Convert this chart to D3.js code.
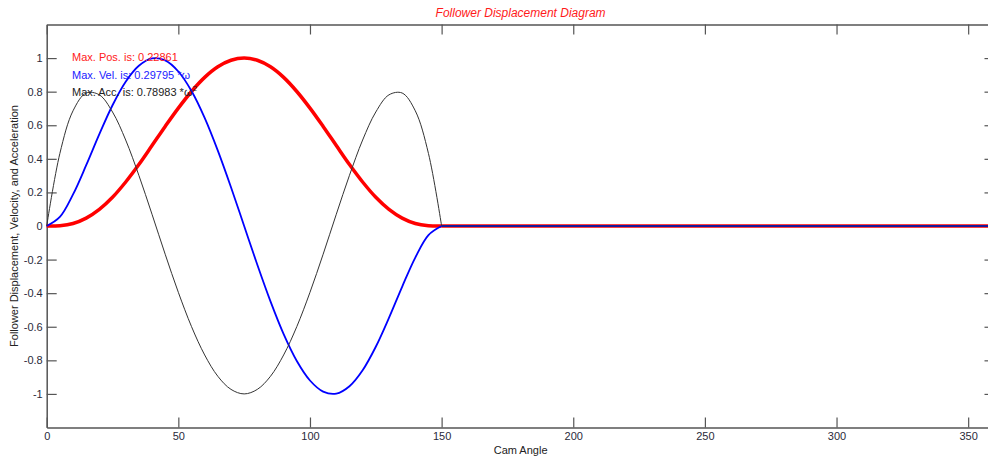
<!DOCTYPE html>
<html>
<head>
<meta charset="utf-8">
<script src="https://cdn.jsdelivr.net/npm/d3@7"></script>
<style>
  body { margin: 0; background: #fff; overflow: hidden; }
  svg { display: block; font-family: "Liberation Sans", Arial, sans-serif; }
</style>
</head>
<body>
<div id="chart"></div>
<script>
// cam angle samples (deg), rise-return over 0..150 then dwell to 360
var angles = [0, 5, 10, 15, 20, 25, 30, 35, 40, 45, 50, 55, 60, 65, 70, 75,
              80, 85, 90, 95, 100, 105, 110, 115, 120, 125, 130, 135, 140, 145, 150, 360];

var posData = [0, 0.002, 0.015, 0.047, 0.099, 0.171, 0.262, 0.366, 0.479, 0.593, 0.702, 0.801, 0.885, 0.948, 0.987, 1,
               0.987, 0.948, 0.885, 0.801, 0.702, 0.593, 0.479, 0.366, 0.262, 0.171, 0.099, 0.047, 0.015, 0.002, 0, 0];

var velData = [0, 0.054, 0.188, 0.362, 0.547, 0.719, 0.859, 0.954, 0.998, 0.986, 0.920, 0.804, 0.644, 0.449, 0.231, 0,
               -0.231, -0.449, -0.644, -0.804, -0.920, -0.986, -0.998, -0.954, -0.859, -0.719, -0.547, -0.362, -0.188, -0.054, 0, 0];

var accData = [0, 0.432, 0.686, 0.792, 0.781, 0.679, 0.512, 0.302, 0.070, -0.168, -0.395, -0.599, -0.768, -0.895, -0.973, -1,
               -0.973, -0.895, -0.768, -0.599, -0.395, -0.168, 0.070, 0.302, 0.512, 0.679, 0.781, 0.792, 0.686, 0.432, 0, 0];

var xTicks = [0, 50, 100, 150, 200, 250, 300, 350];
var yTicks = [-1, -0.8, -0.6, -0.4, -0.2, 0, 0.2, 0.4, 0.6, 0.8, 1];

var legendLines = ["Max. Pos. is: 0.22861", "Max. Vel. is: 0.29795 *\u03c9", "Max. Acc. is: 0.78983 *\u03c9"];

const width = 988, height = 459;
const margin = {top: 24.5, left: 46.7, bottom: 31.5};
var plotRight = 994.5;

var svg = d3.select("#chart").append("svg")
    .attr("width", width)
    .attr("height", height);

var xScale = d3.scaleLinear().domain([0, 360]).range([margin.left, plotRight]);
var yScale = d3.scaleLinear().domain([-1.2, 1.2]).range([height - margin.bottom, margin.top]);

// axes, ticks pointing inward
var axisColor = "#555";
var fmtY = d => String(+d.toFixed(1));

var gx = svg.append("g")
    .attr("transform", "translate(0," + yScale(-1.2) + ")")
    .call(d3.axisBottom(xScale).tickValues(xTicks).tickSize(-10).tickSizeOuter(0).tickPadding(5));
var gxTop = svg.append("g")
    .attr("transform", "translate(0," + yScale(1.2) + ")")
    .call(d3.axisTop(xScale).tickValues(xTicks).tickSize(-10).tickSizeOuter(0).tickFormat(""));
var gy = svg.append("g")
    .attr("transform", "translate(" + xScale(0) + ",0)")
    .call(d3.axisLeft(yScale).tickValues(yTicks).tickSize(-10).tickSizeOuter(0).tickPadding(4).tickFormat(fmtY));
var gyRight = svg.append("g")
    .attr("transform", "translate(" + xScale(360) + ",0)")
    .call(d3.axisRight(yScale).tickValues(yTicks).tickSize(-10).tickSizeOuter(0).tickFormat(""));

[gx, gxTop, gy, gyRight].forEach(function(g){
    g.select(".domain").attr("stroke", axisColor).attr("stroke-width", 1.5);
    g.selectAll(".tick line").attr("stroke", axisColor).attr("stroke-width", 1.2);
    g.selectAll(".tick text")
        .attr("fill", "#2a2a3a")
        .style("font-size", "11px")
        .style("font-family", "'Liberation Sans', Arial, sans-serif");
});

// curves
var pts = function(vals){ return angles.map((a, i) => [a, vals[i]]); };
var riseLine = d3.line()
    .x(d => xScale(d[0]))
    .y(d => yScale(d[1]))
    .curve(d3.curveCatmullRom.alpha(0.5));
var flatLine = d3.line()
    .x(d => xScale(d[0]))
    .y(d => yScale(d[1]));

var series = [
    {vals: posData, color: "#ff0000", w: 3.5},
    {vals: velData, color: "#0000ff", w: 1.8},
    {vals: accData, color: "#333333", w: 1}
];

series.forEach(function(s){
    var p = pts(s.vals);
    var n = p.length;
    svg.append("path")
        .attr("d", riseLine(p.slice(0, n - 1)))
        .attr("fill", "none")
        .attr("stroke", s.color)
        .attr("stroke-width", s.w);
    svg.append("path")
        .attr("d", flatLine(p.slice(n - 2)))
        .attr("fill", "none")
        .attr("stroke", s.color)
        .attr("stroke-width", s.w);
});

// legend text
var legendColors = ["#ff2020", "#1a1aff", "#222"];
var legend = svg.append("g").style("font-size", "11px");
legendLines.forEach(function(t, i){
    var txt = legend.append("text")
        .attr("x", 72)
        .attr("y", 61 + i * 17.5)
        .attr("fill", legendColors[i])
        .text(t);
    if (i == 2) {
        txt.append("tspan").attr("dy", -5).style("font-size", "8px").text("2");
    }
});

// title and axis labels
svg.append("text")
    .attr("x", (margin.left + plotRight) / 2)
    .attr("y", 17)
    .attr("text-anchor", "middle")
    .attr("fill", "#ff1a1a")
    .style("font-size", "12px")
    .style("font-style", "italic")
    .text("Follower Displacement Diagram");

svg.append("text")
    .attr("x", (margin.left + plotRight) / 2)
    .attr("y", 454)
    .attr("text-anchor", "middle")
    .attr("fill", "#222")
    .style("font-size", "11px")
    .text("Cam Angle");

svg.append("text")
    .attr("transform", "translate(18," + yScale(0) + ") rotate(-90)")
    .attr("text-anchor", "middle")
    .attr("fill", "#222")
    .style("font-size", "11px")
    .text("Follower Displacement, Velocity, and Acceleration");
</script>
</body>
</html>
